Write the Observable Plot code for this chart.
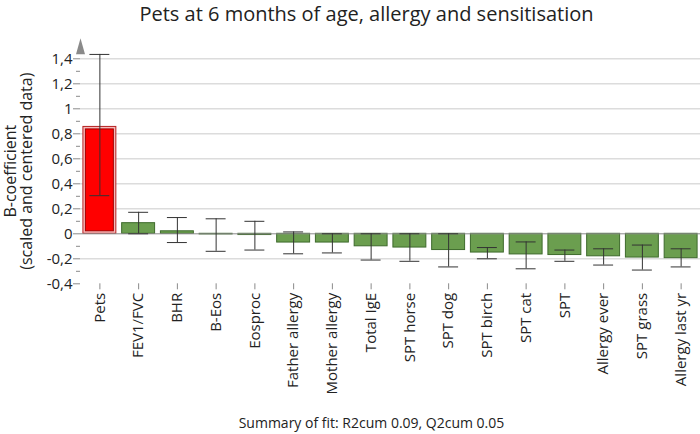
<!DOCTYPE html>
<html>
<head>
<meta charset="utf-8">
<script src="https://cdn.jsdelivr.net/npm/d3@7"></script>
<script src="https://cdn.jsdelivr.net/npm/@observablehq/plot@0.6"></script>
<style>
  html, body { margin: 0; padding: 0; background: #fff; }
  body { width: 700px; height: 434px; overflow: hidden; font-family: "Open Sans", sans-serif; color: #222; }
  #title { height: 30px; line-height: 27px; font-size: 20px; text-align: center; padding-left: 33px; box-sizing: border-box; white-space: nowrap; }
  #caption { font-size: 14px; line-height: 16px; text-align: center; padding-left: 43px; margin-top: 13px; white-space: nowrap; }
  svg { display: block; }
</style>
</head>
<body>
<div id="title">Pets at 6 months of age, allergy and sensitisation</div>
<div id="chart"></div>
<div id="caption">Summary of fit: R2cum 0.09, Q2cum 0.05</div>
<script>
const categories = ["Pets","FEV1/FVC","BHR","B-Eos","Eosproc","Father allergy","Mother allergy","Total IgE","SPT horse","SPT dog","SPT birch","SPT cat","SPT","Allergy ever","SPT grass","Allergy last yr"];
const coef    = [0.855, 0.085, 0.02, -0.005, -0.01, -0.07, -0.07, -0.10, -0.11, -0.13, -0.15, -0.165, -0.17, -0.18, -0.19, -0.195];
const errLow  = [0.305, 0.0, -0.07, -0.14, -0.13, -0.16, -0.153, -0.21, -0.22, -0.265, -0.20, -0.28, -0.22, -0.25, -0.29, -0.265];
const errHigh = [1.435, 0.172, 0.13, 0.12, 0.10, 0.015, 0.0, 0.0, 0.0, 0.0, -0.11, -0.065, -0.13, -0.12, -0.09, -0.12];
const yTicks = [-0.4, -0.2, 0, 0.2, 0.4, 0.6, 0.8, 1, 1.2, 1.4];
const yTickLabels = ["-0,4", "-0,2", "0", "0,2", "0,4", "0,6", "0,8", "1", "1,2", "1,4"];
const yMinorTicks = [-0.3, -0.1, 0.1, 0.3, 0.5, 0.7, 0.9, 1.1, 1.3];
const yLabelLines = ["B-coefficient", "(scaled and centered data)"];

const rows = categories.map((c, i) => ({cat: c, coef: coef[i], lo: errLow[i], hi: errHigh[i]}));
const highlight = rows.slice(0, 1);
const others = rows.slice(1);
const fmt = d => yTickLabels[yTicks.findIndex(t => Math.abs(t - d) < 1e-9)] ?? "";

const arrowSymbol = {
  draw(context) {
    context.moveTo(0, -8);
    context.lineTo(4.5, 8);
    context.lineTo(-4.5, 8);
    context.closePath();
  }
};

const chart = Plot.plot({
  width: 700,
  height: 372,
  marginLeft: 80,
  marginRight: 0,
  marginTop: 22.05,
  marginBottom: 118.7,
  style: {fontFamily: "Open Sans, sans-serif", fontSize: "13px", color: "#222", background: "#fff"},
  x: {domain: categories, paddingInner: 0.15, paddingOuter: 0.075, round: false, label: null},
  y: {domain: [-0.4, 1.45], label: null},
  marks: [
    Plot.gridY(yTicks.filter(t => t !== 0 && t !== -0.4), {stroke: "#dcdcdc", strokeOpacity: 1, strokeWidth: 1.5}),
    Plot.barY(others, {x: "cat", y1: 0, y2: "coef", fill: "#6b9e4f", stroke: "#3e6a2c", strokeWidth: 1}),
    Plot.barY(highlight, {x: "cat", y1: 0, y2: "coef", fill: "#f6b9b9", stroke: "#b52020", strokeWidth: 1}),
    Plot.barY(highlight, {x: "cat", y1: 0, y2: "coef", inset: 2.5, fill: "#ff0000", stroke: "#a00000", strokeWidth: 1}),
    Plot.ruleY([0], {stroke: "#8a8a8a", strokeWidth: 1}),
    Plot.ruleX(rows, {x: "cat", y1: "lo", y2: "hi", stroke: "#333", strokeWidth: 1}),
    Plot.tickY(rows, {x: "cat", y: "lo", inset: 6.5, stroke: "#333", strokeWidth: 1}),
    Plot.tickY(rows, {x: "cat", y: "hi", inset: 6.5, stroke: "#333", strokeWidth: 1}),
    Plot.axisY({ticks: yTicks, tickSize: 7, tickPadding: 1, tickFormat: fmt, stroke: "#8a8a8a", fill: "#222", fontSize: 15, line: true, label: null}),
    Plot.axisY({ticks: yMinorTicks, tickSize: 4, fill: "none", stroke: "#8a8a8a", label: null}),
    Plot.dot([1.5], {y: d => d, frameAnchor: "left", symbol: arrowSymbol, r: 5, fill: "#8a8a8a", stroke: "none"}),
    Plot.axisX({tickSize: 6, tickPadding: 3, tickRotate: -90, stroke: "#8a8a8a", fill: "#222", fontSize: 15, line: true, label: null}),
    Plot.text([yLabelLines[0]], {text: d => d, frameAnchor: "left", textAnchor: "middle", rotate: -90, dx: -70, dy: 3, fontSize: 16, fill: "#222"}),
    Plot.text([yLabelLines[1]], {text: d => d, frameAnchor: "left", textAnchor: "middle", rotate: -90, dx: -53.5, dy: 3, fontSize: 16, fill: "#222"})
  ]
});
document.getElementById("chart").appendChild(chart);
</script>
</body>
</html>
